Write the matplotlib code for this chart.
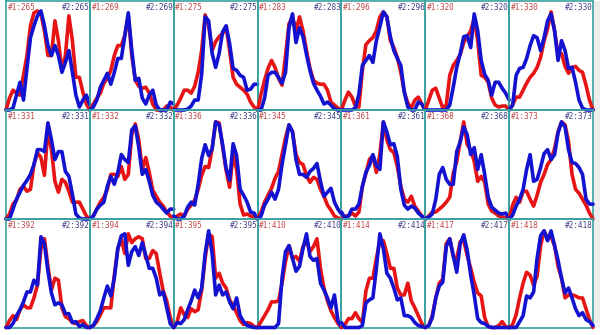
import matplotlib
matplotlib.use("Agg")
import matplotlib.pyplot as plt
from matplotlib.patches import Rectangle

ids = [265, 269, 275, 283, 296, 320, 330,
       331, 332, 336, 345, 361, 368, 373,
       392, 394, 395, 410, 414, 417, 418]

red_series = [
    [0, 0.12, 0.2, 0.17, 0.15, 0.35, 0.55, 0.85, 0.98, 1.0, 0.97, 0.8, 0.55, 0.55, 0.9, 0.7, 0.4, 0.55, 0.95, 0.7, 0.33, 0.33, 0.18, 0.06, 0],
    [0, 0.06, 0.12, 0.17, 0.27, 0.32, 0.4, 0.55, 0.65, 0.65, 0.75, 0.95, 0.55, 0.3, 0.24, 0.22, 0.23, 0.17, 0.06, 0, 0, 0, 0.04, 0.03, 0],
    [0, 0.05, 0.12, 0.2, 0.2, 0.17, 0.24, 0.38, 0.6, 0.96, 0.85, 0.6, 0.69, 0.74, 0.77, 0.84, 0.6, 0.33, 0.26, 0.23, 0.2, 0.16, 0.08, 0.03, 0],
    [0, 0.16, 0.3, 0.42, 0.5, 0.43, 0.32, 0.25, 0.55, 0.87, 0.94, 0.8, 0.94, 0.8, 0.6, 0.42, 0.3, 0.27, 0.26, 0.26, 0.2, 0.08, 0.05, 0.02, 0],
    [0, 0.1, 0.18, 0.13, 0.04, 0.03, 0.4, 0.66, 0.7, 0.73, 0.8, 0.94, 0.99, 0.94, 0.7, 0.63, 0.53, 0.38, 0.18, 0.07, 0.02, 0.1, 0.13, 0.06, 0],
    [0, 0.1, 0.2, 0.22, 0.12, 0.02, 0.05, 0.35, 0.45, 0.5, 0.56, 0.68, 0.74, 0.8, 0.92, 0.7, 0.35, 0.33, 0.28, 0.12, 0.05, 0.03, 0.04, 0.04, 0],
    [0, 0.05, 0.13, 0.13, 0.2, 0.27, 0.33, 0.37, 0.43, 0.53, 0.7, 0.82, 0.99, 0.8, 0.56, 0.57, 0.44, 0.37, 0.43, 0.44, 0.4, 0.38, 0.25, 0.1, 0],
    [0, 0.05, 0.15, 0.19, 0.3, 0.33, 0.28, 0.3, 0.55, 0.67, 0.62, 0.44, 0.9, 0.7, 0.38, 0.27, 0.4, 0.37, 0.28, 0.17, 0.17, 0.17, 0.1, 0.03, 0],
    [0, 0.03, 0.1, 0.17, 0.22, 0.3, 0.45, 0.45, 0.43, 0.53, 0.4, 0.45, 0.85, 0.96, 0.8, 0.5, 0.62, 0.47, 0.29, 0.23, 0.17, 0.13, 0.07, 0.03, 0],
    [0, 0.03, 0.05, 0.03, 0.1, 0.14, 0.19, 0.3, 0.44, 0.53, 0.52, 0.71, 0.98, 0.97, 0.73, 0.49, 0.32, 0.65, 0.5, 0.15, 0.04, 0.05, 0.03, 0.02, 0],
    [0, 0.07, 0.17, 0.24, 0.31, 0.41, 0.48, 0.65, 0.82, 0.95, 0.88, 0.65, 0.57, 0.55, 0.44, 0.37, 0.42, 0.4, 0.3, 0.23, 0.14, 0.09, 0.03, 0.01, 0],
    [0, 0.03, 0.03, 0.06, 0.03, 0.07, 0.33, 0.46, 0.6, 0.64, 0.47, 0.65, 0.98, 0.8, 0.7, 0.67, 0.53, 0.33, 0.2, 0.17, 0.23, 0.13, 0.08, 0.03, 0],
    [0, 0.03, 0.07, 0.07, 0.1, 0.13, 0.17, 0.22, 0.46, 0.58, 0.78, 0.98, 0.75, 0.7, 0.58, 0.38, 0.43, 0.37, 0.15, 0.08, 0.06, 0.03, 0.02, 0.01, 0],
    [0, 0.14, 0.22, 0.17, 0.28, 0.28, 0.2, 0.13, 0.24, 0.37, 0.45, 0.55, 0.6, 0.71, 0.88, 0.98, 0.95, 0.78, 0.45, 0.3, 0.26, 0.2, 0.14, 0.06, 0],
    [0, 0.07, 0.12, 0.08, 0.18, 0.23, 0.2, 0.2, 0.3, 0.43, 0.8, 0.9, 0.62, 0.38, 0.5, 0.48, 0.2, 0.11, 0.09, 0.05, 0.04, 0.06, 0.07, 0.02, 0],
    [0, 0.02, 0.06, 0.13, 0.2, 0.2, 0.2, 0.53, 0.8, 0.9, 0.75, 0.95, 0.86, 0.9, 0.92, 0.9, 0.7, 0.7, 0.78, 0.75, 0.55, 0.37, 0.27, 0.1, 0],
    [0, 0.06, 0.2, 0.13, 0.1, 0.19, 0.16, 0.18, 0.38, 0.7, 0.95, 0.92, 0.5, 0.55, 0.45, 0.4, 0.28, 0.22, 0.15, 0.07, 0.03, 0.05, 0.04, 0.01, 0],
    [0, 0.06, 0.12, 0.18, 0.26, 0.26, 0.27, 0.45, 0.67, 0.83, 0.7, 0.72, 0.67, 0.82, 0.88, 0.77, 0.82, 0.9, 0.6, 0.4, 0.27, 0.17, 0.1, 0.04, 0],
    [0, 0.03, 0.09, 0.09, 0.15, 0.09, 0.05, 0.37, 0.5, 0.5, 0.7, 0.88, 0.88, 0.75, 0.6, 0.6, 0.4, 0.33, 0.33, 0.45, 0.27, 0.2, 0.12, 0.04, 0],
    [0, 0.02, 0.12, 0.3, 0.45, 0.49, 0.85, 0.9, 0.72, 0.7, 0.87, 0.88, 0.73, 0.6, 0.46, 0.35, 0.32, 0.1, 0.01, 0, 0, 0.02, 0.06, 0.01, 0],
    [0, 0.03, 0.13, 0.3, 0.45, 0.56, 0.53, 0.43, 0.52, 0.83, 0.98, 0.9, 0.92, 0.83, 0.62, 0.5, 0.3, 0.33, 0.33, 0.32, 0.3, 0.3, 0.19, 0.08, 0],
]

blue_series = [
    [0, 0, 0.02, 0.15, 0.28, 0.1, 0.42, 0.73, 0.85, 0.95, 1.0, 0.85, 0.65, 0.55, 0.65, 0.55, 0.38, 0.48, 0.6, 0.38, 0.15, 0.03, 0.1, 0.15, 0.05],
    [0, 0.03, 0.1, 0.23, 0.3, 0.37, 0.26, 0.38, 0.52, 0.52, 0.75, 0.98, 0.6, 0.3, 0.32, 0.12, 0.06, 0.15, 0.2, 0.05, 0, 0, 0, 0.08, 0.06],
    [0, 0, 0, 0, 0.01, 0.04, 0.1, 0.1, 0.36, 0.94, 0.9, 0.57, 0.43, 0.57, 0.79, 0.85, 0.67, 0.42, 0.4, 0.35, 0.33, 0.2, 0.21, 0.26, 0.26],
    [0, 0, 0.12, 0.35, 0.38, 0.38, 0.33, 0.27, 0.38, 0.83, 0.97, 0.68, 0.83, 0.74, 0.56, 0.4, 0.27, 0.2, 0.14, 0.06, 0.08, 0.05, 0.01, 0, 0],
    [0, 0, 0, 0, 0.02, 0.16, 0.45, 0.5, 0.55, 0.48, 0.7, 0.84, 0.99, 0.94, 0.74, 0.6, 0.52, 0.45, 0.18, 0.03, 0, 0, 0.08, 0.06, 0],
    [0, 0, 0, 0, 0, 0, 0, 0.05, 0.23, 0.43, 0.57, 0.74, 0.75, 0.63, 0.97, 0.8, 0.5, 0.36, 0.3, 0.15, 0.28, 0.28, 0.22, 0.17, 0.1],
    [0, 0.05, 0.35, 0.42, 0.43, 0.52, 0.65, 0.75, 0.73, 0.6, 0.73, 0.9, 0.97, 0.8, 0.5, 0.7, 0.6, 0.42, 0.43, 0.28, 0.1, 0.02, 0, 0, 0],
    [0, 0, 0.1, 0.2, 0.27, 0.34, 0.39, 0.45, 0.55, 0.7, 0.7, 0.68, 0.97, 0.8, 0.6, 0.68, 0.68, 0.48, 0.43, 0.25, 0.05, 0.01, 0, 0, 0],
    [0, 0.03, 0.1, 0.14, 0.17, 0.33, 0.43, 0.35, 0.47, 0.65, 0.6, 0.57, 0.9, 0.94, 0.72, 0.45, 0.5, 0.38, 0.24, 0.17, 0.14, 0.1, 0.06, 0.1, 0.1],
    [0.03, 0, 0, 0.03, 0.12, 0.17, 0.14, 0.35, 0.61, 0.75, 0.64, 0.71, 0.98, 0.95, 0.75, 0.51, 0.39, 0.76, 0.64, 0.3, 0.24, 0.17, 0.07, 0.06, 0],
    [0, 0.03, 0.14, 0.2, 0.27, 0.2, 0.3, 0.55, 0.75, 0.95, 0.88, 0.6, 0.45, 0.45, 0.42, 0.48, 0.51, 0.56, 0.38, 0.23, 0.27, 0.31, 0.17, 0.1, 0.05],
    [0.07, 0.01, 0.03, 0.1, 0.1, 0.15, 0.33, 0.47, 0.54, 0.65, 0.54, 0.5, 0.98, 0.88, 0.75, 0.76, 0.63, 0.3, 0.14, 0.1, 0.13, 0.11, 0.06, 0.03, 0],
    [0, 0.02, 0.05, 0.2, 0.45, 0.52, 0.4, 0.35, 0.35, 0.68, 0.78, 0.93, 0.85, 0.65, 0.72, 0.5, 0.65, 0.45, 0.22, 0.12, 0.09, 0.06, 0.05, 0.06, 0],
    [0, 0.04, 0.13, 0.2, 0.3, 0.5, 0.65, 0.38, 0.4, 0.52, 0.66, 0.7, 0.6, 0.65, 0.87, 0.98, 0.93, 0.7, 0.57, 0.56, 0.52, 0.45, 0.2, 0.15, 0.15],
    [0, 0, 0.04, 0.12, 0.18, 0.26, 0.36, 0.36, 0.48, 0.43, 0.92, 0.85, 0.57, 0.35, 0.23, 0.25, 0.23, 0.14, 0.14, 0.05, 0.06, 0.01, 0.03, 0, 0],
    [0, 0.02, 0.09, 0.17, 0.3, 0.42, 0.32, 0.5, 0.8, 0.93, 0.95, 0.63, 0.77, 0.82, 0.73, 0.86, 0.73, 0.6, 0.6, 0.5, 0.33, 0.36, 0.2, 0.04, 0],
    [0, 0.05, 0.04, 0.08, 0.18, 0.27, 0.38, 0.3, 0.4, 0.75, 0.98, 0.75, 0.33, 0.43, 0.33, 0.36, 0.26, 0.19, 0.3, 0.12, 0.06, 0.02, 0.01, 0, 0],
    [0, 0, 0, 0, 0, 0, 0.04, 0.5, 0.77, 0.83, 0.7, 0.57, 0.62, 0.8, 0.95, 0.72, 0.68, 0.7, 0.45, 0.38, 0.3, 0.2, 0.33, 0.07, 0],
    [0.05, 0, 0, 0, 0, 0, 0.02, 0.25, 0.28, 0.3, 0.6, 0.95, 0.8, 0.55, 0.5, 0.4, 0.28, 0.3, 0.12, 0.12, 0.1, 0.05, 0.02, 0.01, 0],
    [0, 0.02, 0.1, 0.3, 0.42, 0.46, 0.82, 0.9, 0.73, 0.56, 0.85, 0.94, 0.78, 0.53, 0.33, 0.09, 0.05, 0.04, 0.01, 0, 0, 0, 0, 0, 0],
    [0, 0, 0, 0.06, 0.12, 0.32, 0.3, 0.36, 0.7, 0.93, 0.98, 0.88, 0.98, 0.83, 0.68, 0.5, 0.35, 0.4, 0.3, 0.19, 0.12, 0.15, 0.08, 0.06, 0.02],
]

W, H = 600, 335
fig = plt.figure(figsize=(W / 100, H / 100), dpi=100)
fig.patch.set_facecolor("white")

ncols = 7
col_left, col_right = 6.0, 593.0
row_edges = [1.0, 110.0, 219.0, 327.5]
cw = (col_right - col_left) / ncols

border = "#3aa0a0"
red = "#e61414"
blue = "#1212d0"
red_lbl = "#c04848"
blue_lbl = "#404088"

# scrollbar-like strip on the right
fig.add_artist(Rectangle((col_right / W + 0.002, 1 - 327.5 / H), 1, 326.5 / H,
                         transform=fig.transFigure, facecolor="#eeeeee",
                         edgecolor="none", zorder=0))

for k, pid in enumerate(ids):
    r, c = divmod(k, ncols)
    x0 = col_left + c * cw
    y0 = row_edges[r]
    y1 = row_edges[r + 1]
    ax = fig.add_axes([x0 / W, 1 - y1 / H, cw / W, (y1 - y0) / H])
    ax.set_facecolor("none")
    xs = list(range(len(red_series[k])))
    ax.plot(xs, red_series[k], color=red, lw=2.6, clip_on=False,
            solid_joinstyle="round", solid_capstyle="round", zorder=3)
    ax.plot(xs, blue_series[k], color=blue, lw=2.6, clip_on=False,
            solid_joinstyle="round", solid_capstyle="round", zorder=4)
    ax.set_xlim(0, len(xs) - 1)
    ax.set_ylim(0, 1.1)
    ax.set_xticks([])
    ax.set_yticks([])
    for s in ax.spines.values():
        s.set_color(border)
        s.set_linewidth(1.2)
    ax.text(0.02, 0.985, f"#1:{pid}", transform=ax.transAxes, ha="left", va="top",
            fontsize=5.6, family="DejaVu Sans Mono", color=red_lbl, zorder=6, clip_on=False)
    ax.text(1.0, 0.985, f"#2:{pid}", transform=ax.transAxes, ha="right", va="top",
            fontsize=5.6, family="DejaVu Sans Mono", color=blue_lbl, zorder=6, clip_on=False)

fig.savefig("out.png", dpi=100, facecolor="white")
